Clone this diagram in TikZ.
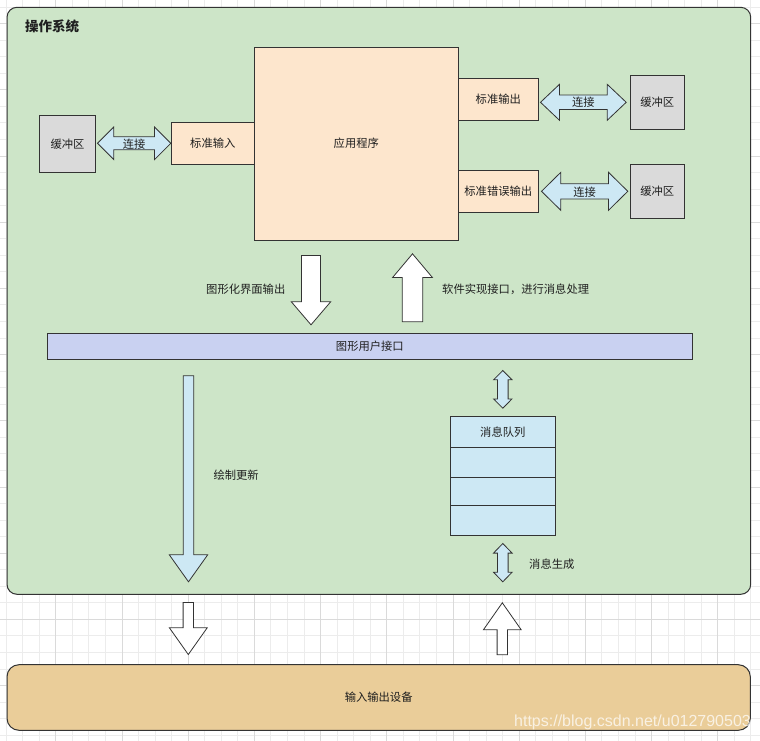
\documentclass[tikz,border=0pt]{standalone}
\usepackage{fontspec}
\setmainfont{Noto Sans CJK SC}
\newfontfamily\wmfont{Liberation Sans}
\usetikzlibrary{calc}
\definecolor{osgreen}{HTML}{CDE5C8}
\definecolor{apporange}{HTML}{FDE6CD}
\definecolor{bufgray}{HTML}{DADADA}
\definecolor{ltblue}{HTML}{CDE8F4}
\definecolor{guiblue}{HTML}{C9D1F1}
\definecolor{iofill}{HTML}{EACD99}
\definecolor{edge}{HTML}{333333}
\definecolor{gridminor}{HTML}{ECECEC}
\definecolor{gridmajor}{HTML}{DADADA}
\tikzset{
  lbl/.style={font=\fontsize{11.3}{13.5}\selectfont, inner sep=0pt, text=black!88},
  box/.style={lbl, draw=edge, line width=1pt, fill=#1},
  bigbox/.style={lbl, draw=edge, line width=1pt, fill=#1},
  bluearrow/.style={draw=edge, line width=0.8pt, fill=ltblue, line join=miter},
  whitearrow/.style={draw=edge, line width=0.8pt, fill=white, line join=miter},
  gridmin/.style={draw=gridminor, line width=0.8pt},
  gridmaj/.style={draw=gridmajor, line width=0.8pt},
}
% horizontal double block arrow: style, from, to, headlen, halfhead, halfshaft, gapfrom, gapto
\newcommand\hdblshape[8][bluearrow]{%
  \filldraw[#1] let \p1=(#2), \p2=(#3), \n1={\x1+#7pt}, \n2={\x2-#8pt}, \n3={\x1+#7pt+#4pt}, \n4={\x2-#8pt-#4pt} in
  (\n1,\y2) -- (\n3,\y2+#5pt) -- (\n3,\y2+#6pt) -- (\n4,\y2+#6pt) -- (\n4,\y2+#5pt) -- (\n2,\y2)
  -- (\n4,\y2-#5pt) -- (\n4,\y2-#6pt) -- (\n3,\y2-#6pt) -- (\n3,\y2-#5pt) -- cycle;}
% vertical double block arrow (from above to below)
\newcommand\vdblshape[8][bluearrow]{%
  \filldraw[#1] let \p1=(#2), \p2=(#3), \n1={\y1-#7pt}, \n2={\y2+#8pt}, \n3={\y1-#7pt-#4pt}, \n4={\y2+#8pt+#4pt} in
  (\x1,\n1) -- (\x1+#5pt,\n3) -- (\x1+#6pt,\n3) -- (\x1+#6pt,\n4) -- (\x1+#5pt,\n4) -- (\x1,\n2)
  -- (\x1-#5pt,\n4) -- (\x1-#6pt,\n4) -- (\x1-#6pt,\n3) -- (\x1-#5pt,\n3) -- cycle;}
% single block arrow pointing down (from above to below)
\newcommand\darrowshape[8][whitearrow]{%
  \filldraw[#1] let \p1=(#2), \p2=(#3), \n1={\y1-#7pt}, \n2={\y2+#8pt}, \n3={\y2+#8pt+#4pt} in
  (\x1-#6pt,\n1) -- (\x1+#6pt,\n1) -- (\x1+#6pt,\n3) -- (\x1+#5pt,\n3) -- (\x1,\n2)
  -- (\x1-#5pt,\n3) -- (\x1-#6pt,\n3) -- cycle;}
% single block arrow pointing up (from below to above)
\newcommand\uarrowshape[8][whitearrow]{%
  \filldraw[#1] let \p1=(#2), \p2=(#3), \n1={\y1+#7pt}, \n2={\y2-#8pt}, \n3={\y2-#8pt-#4pt} in
  (\x1-#6pt,\n1) -- (\x1+#6pt,\n1) -- (\x1+#6pt,\n3) -- (\x1+#5pt,\n3) -- (\x1,\n2)
  -- (\x1-#5pt,\n3) -- (\x1-#6pt,\n3) -- cycle;}
\begin{document}
\begin{tikzpicture}[x=1pt,y=-1pt]
\useasboundingbox (0,0) rectangle (760,741);
\clip (0,0) rectangle (760,741);
\fill[white] (0,0) rectangle (760,741);
% background grid
\foreach \k in {0,...,45} \draw[gridmin] ({6.05+16.55*\k},0) -- ({6.05+16.55*\k},741);
\foreach \k in {0,...,44} \draw[gridmin] (0,{6.95+16.55*\k}) -- (760,{6.95+16.55*\k});
\foreach \j in {0,...,10} \draw[gridmaj] ({55.7+66.2*\j},0) -- ({55.7+66.2*\j},741);
\foreach \j in {0,...,10} \draw[gridmaj] (0,{23.5+66.2*\j}) -- (760,{23.5+66.2*\j});

% operating system container
\node[bigbox=osgreen, rounded corners=10pt, minimum width=743.7pt, minimum height=587pt] (os) at (378.85,300.8) {};
\node[lbl, font=\fontsize{13.5}{16}\selectfont\bfseries, anchor=west] (ostitle) at (25,26) {操作系统};

% input/output devices
\node[bigbox=iofill, rounded corners=12pt, minimum width=743.3pt, minimum height=65.6pt] (io) at (378.65,697.5) {输入输出设备};

% application and streams
\node[box=apporange, minimum width=204pt, minimum height=192.7pt] (app) at (356.3,143.65) {应用程序};
\node[box=apporange, minimum width=83pt, minimum height=42pt] (stdin) at (212.8,143.3) {标准输入};
\node[box=apporange, minimum width=80pt, minimum height=42pt] (stdout) at (498.3,99.3) {标准输出};
\node[box=apporange, minimum width=80pt, minimum height=42pt] (stderr) at (498.3,191.3) {标准错误输出};

% buffers
\node[box=bufgray, minimum width=56.4pt, minimum height=57pt] (bufL) at (67.5,143.8) {缓冲区};
\node[box=bufgray, minimum width=54pt, minimum height=54pt] (bufR1) at (657.3,102.3) {缓冲区};
\node[box=bufgray, minimum width=54pt, minimum height=54pt] (bufR2) at (657.3,191.3) {缓冲区};

% GUI bar
\node[box=guiblue, minimum width=645.7pt, minimum height=25.7pt] (gui) at (369.85,346.15) {图形用户接口};

% message queue
\node[box=ltblue, minimum width=105pt, minimum height=31pt] (qhead) at (502.8,431.8) {消息队列};
\node[box=ltblue, minimum width=105pt, minimum height=30pt] (qr1) at (502.8,462.3) {};
\node[box=ltblue, minimum width=105pt, minimum height=28pt] (qr2) at (502.8,491.3) {};
\node[box=ltblue, minimum width=105pt, minimum height=30pt] (qr3) at (502.8,520.3) {};

% connection double arrows
\hdblshape{bufL.east}{stdin.west}{16.3}{16.3}{6.5}{1.3}{0}
\hdblshape{stdout.east}{bufR1.west}{19}{18}{7.2}{1.7}{3.6}
\hdblshape{stderr.east}{bufR2.west}{19.3}{19}{7.6}{2.7}{2}
\node[lbl] (c1) at (134.2,144) {连接};
\node[lbl] (c2) at (583.3,102.3) {连接};
\node[lbl] (c3) at (584.6,192) {连接};

% app <-> GUI
\darrowshape{[xshift=-45.3pt]app.south}{gui.north}{23}{19.65}{9.45}{15}{8}
\uarrowshape{[xshift=42.65pt]gui.north}{app.south}{23.7}{19.9}{10.2}{11}{13.3}
\node[lbl, anchor=west] (l1) at (206,289.3) {图形化界面输出};
\node[lbl, anchor=west] (l2) at (442,289.3) {软件实现接口，进行消息处理};

% GUI <-> queue
\vdblshape{gui.south -| qhead.north}{qhead.north}{9.3}{9.2}{5.3}{11}{7.6}
\vdblshape{qr3.south}{qr3.south |- os.south}{9.6}{9.3}{5.3}{7.7}{13}
\node[lbl, anchor=west] (l3) at (529,564) {消息生成};

% draw update
\darrowshape[bluearrow]{[xshift=-181.35pt]gui.south}{os.south}{27}{19.2}{5.2}{16.3}{13}
\node[lbl, anchor=west] (l4) at (213.3,475) {绘制更新};

% OS <-> devices
\darrowshape{[xshift=-190.55pt]os.south}{io.north}{26.7}{18.9}{5.2}{7.7}{9.7}
\uarrowshape{[xshift=123.65pt]io.north}{os.south}{27}{18.9}{5.2}{9.4}{8}

% watermark
\node[anchor=base west, inner sep=0pt, text=white, text opacity=0.72, font=\wmfont\fontsize{16}{18}\selectfont] (wm) at (514,726.6) {https://blog.csdn.net/u012790503};
\end{tikzpicture}
\end{document}
